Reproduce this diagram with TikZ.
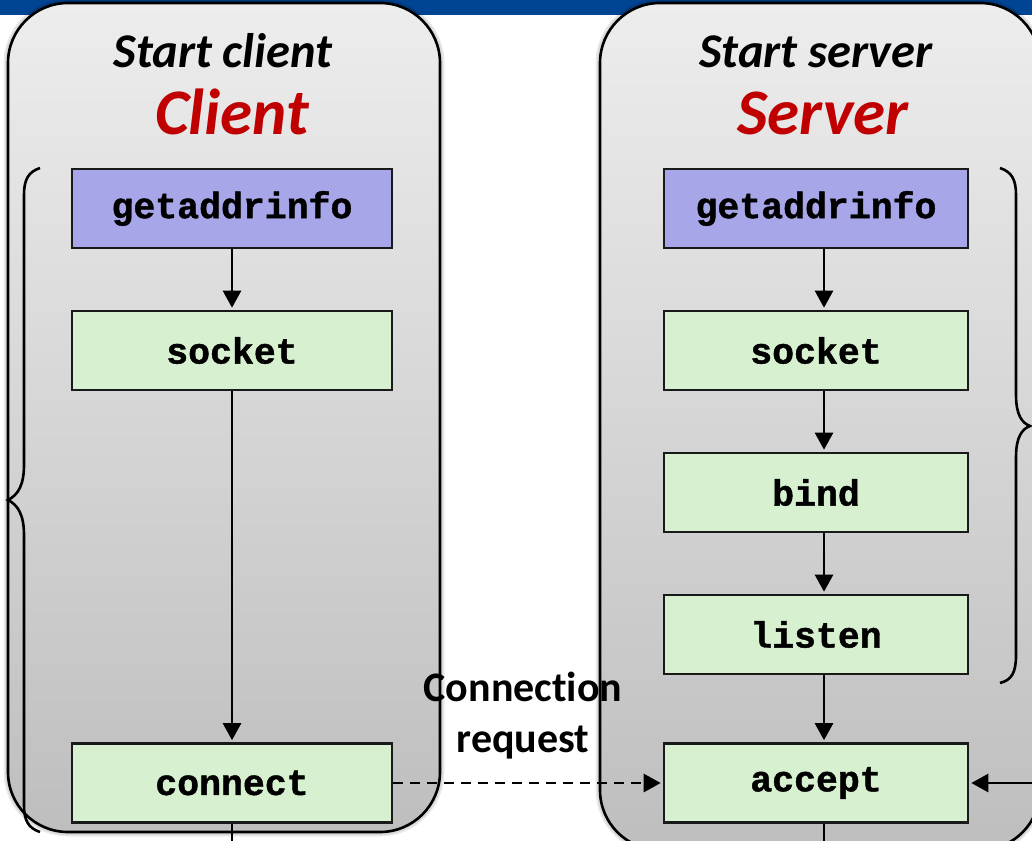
\documentclass[tikz,border=0pt]{standalone}
\usepackage{fontspec}
\setmonofont{Liberation Mono}[BoldFeatures={FakeBold=1.2}]
\newfontfamily\calibri{Carlito}[Ligatures=NoCommon]
\usetikzlibrary{arrows.meta,calc}
\definecolor{barblue}{RGB}{0,69,148}
\definecolor{callblue}{RGB}{166,166,232}
\definecolor{callgreen}{RGB}{214,240,208}
\definecolor{paneltop}{RGB}{237,237,237}
\definecolor{panelbot}{RGB}{190,190,190}
\definecolor{namered}{RGB}{192,0,0}
\begin{document}
\begin{tikzpicture}[x=1pt,y=-1pt,
  panel/.style={draw=black, line width=2.6pt, rounded corners=60pt,
    top color=paneltop, bottom color=panelbot},
  halo/.style={draw=black, line width=#1, opacity=0.08, rounded corners=60pt},
  call/.style={draw=black!90, line width=2.6pt, fill=callgreen,
    minimum height=79pt, inner sep=0pt,
    font=\ttfamily\bfseries\fontsize{36.5}{36.5}\selectfont},
  lookup/.style={call, fill=callblue},
  cwide/.style={minimum width=320pt},
  swide/.style={minimum width=304pt},
  flow/.style={line width=2.6pt, shorten >=2pt, -{Triangle[length=17pt,width=18pt]}},
  bracket/.style={line width=2.6pt},
  heading/.style={anchor=base, font=\calibri\bfseries\itshape\fontsize{48.5}{48.5}\selectfont},
  role/.style={anchor=base, text=namered, font=\calibri\bfseries\itshape\fontsize{65}{65}\selectfont},
]
\useasboundingbox (0,0) rectangle (1032,840);

% title bar
\fill[barblue] (0,0) rectangle (1032,15);

% soft edge under the panels
\foreach \w in {6pt,9pt} {
  \path[halo=\w] (8,3) rectangle (440,832);
  \path[halo=\w] (600,3) rectangle (1040,850);
}

% client and server panels
\path[panel] (8,3) rectangle (440,832);
\path[panel] (600,3) rectangle (1040,850);

% braces grouping the set-up calls
\draw[bracket] (40,168) .. controls (28,172) and (24,180) .. (24,195)
  -- (24,465) .. controls (24,485) and (18,495) .. (8,500)
  .. controls (18,505) and (24,515) .. (24,535)
  -- (24,805) .. controls (24,820) and (28,828) .. (40,832);
\draw[bracket] (1000,168) .. controls (1012,172) and (1016,180) .. (1016,195)
  -- (1016,395) .. controls (1016,415) and (1022,423) .. (1030,426)
  .. controls (1022,429) and (1016,437) .. (1016,457)
  -- (1016,655) .. controls (1016,672) and (1012,680) .. (1000,683);

% headings
\node[heading] (ctitle) at (223,68) {Start client};
\node[role] (cname) at (232,135) {Client};
\node[heading] (stitle) at (816,68) {Start server};
\node[role] (sname) at (823,135) {Server};

% client calls
\node[lookup, cwide] (cgai) at (232,208.5) {getaddrinfo};
\node[call, cwide] (csock) at (232,350.5) {socket};
\node[call, cwide] (cconn) at (232,783) {connect};

% server calls
\node[lookup, swide] (sgai) at (816,208.5) {getaddrinfo};
\node[call, swide] (ssock) at (816,350.5) {socket};
\node[call, swide] (sbind) at (816,492.5) {bind};
\node[call, swide] (slist) at (816,634.5) {listen};
\node[call, swide] (sacc) at (816,783) {accept};

% free ends and the server flow line
\coordinate (sline) at (824,0);
\coordinate (cout) at (232,845);
\coordinate (sout) at (824,845);
\coordinate (sin) at (1034,783);

% client flow
\draw[flow] (cgai) -- (csock);
\draw[flow] (csock) -- (cconn);
\draw[line width=2.6pt] (cconn) -- (cout);

% server flow
\draw[flow] (sgai.south -| sline) -- (ssock.north -| sline);
\draw[flow] (ssock.south -| sline) -- (sbind.north -| sline);
\draw[flow] (sbind.south -| sline) -- (slist.north -| sline);
\draw[flow] (slist.south -| sline) -- (sacc.north -| sline);
\draw[line width=2.6pt] (sacc.south -| sline) -- (sout);
\draw[flow] (sin) -- (sacc);

% connection request
\draw[flow, dash pattern=on 10pt off 7pt] (cconn) -- (sacc);
\node[align=center, font=\calibri\bfseries\fontsize{42}{51}\selectfont] (req) at (523,716) {Connection\\request};
\end{tikzpicture}
\end{document}
